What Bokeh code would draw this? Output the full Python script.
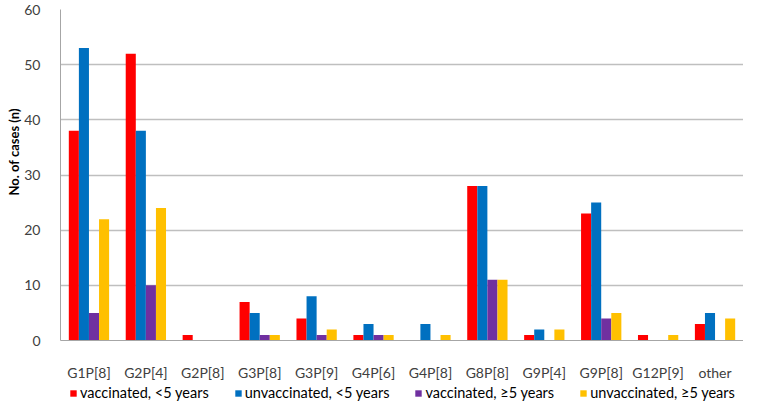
from bokeh.plotting import figure
from bokeh.layouts import column
from bokeh.models import ColumnDataSource, FactorRange, Legend, LegendItem, Title
from bokeh.transform import dodge
from bokeh.embed import file_html
from bokeh.resources import INLINE

categories = ["G1P[8]", "G2P[4]", "G2P[8]", "G3P[8]", "G3P[9]", "G4P[6]",
              "G4P[8]", "G8P[8]", "G9P[4]", "G9P[8]", "G12P[9]", "other"]
vacc_under5 = [38, 52, 1, 7, 4, 1, 0, 28, 1, 23, 1, 3]
unvacc_under5 = [53, 38, 0, 5, 8, 3, 3, 28, 2, 25, 0, 5]
vacc_over5 = [5, 10, 0, 1, 1, 1, 0, 11, 0, 4, 0, 0]
unvacc_over5 = [22, 24, 0, 1, 2, 1, 1, 11, 2, 5, 1, 4]
series_labels = ["vaccinated, <5 years", "unvaccinated, <5 years",
                 "vaccinated, \u22655 years", "unvaccinated, \u22655 years"]
colors = ["#FF0000", "#0070C0", "#7030A0", "#FFC000"]
y_ticks = [0, 10, 20, 30, 40, 50, 60]
y_title = "No. of cases (n)"

source = ColumnDataSource(dict(cat=categories, s0=vacc_under5, s1=unvacc_under5,
                               s2=vacc_over5, s3=unvacc_over5))

FONT = "Lato"
p = figure(x_range=FactorRange(*categories, range_padding=0), y_range=(0, 60),
           width=743, height=383, output_backend="svg", toolbar_location=None,
           min_border_left=60, min_border_right=0, min_border_top=9, min_border_bottom=38)

bw = 0.177
offsets = [-1.5 * bw, -0.5 * bw, 0.5 * bw, 1.5 * bw]
for i, col in enumerate(["s0", "s1", "s2", "s3"]):
    p.vbar(x=dodge("cat", offsets[i], range=p.x_range), top=col, width=bw,
           source=source, fill_color=colors[i], line_color=None)

p.outline_line_color = None
p.xgrid.grid_line_color = None
p.ygrid.grid_line_color = "#BFBFBF"
p.ygrid.grid_line_width = 1.5
p.yaxis.ticker = y_ticks
p.yaxis.axis_line_color = "#A6A6A6"
p.yaxis.major_tick_line_color = None
p.yaxis.minor_tick_line_color = None
p.yaxis.major_label_text_font = FONT
p.yaxis.major_label_text_font_size = "14px"
p.yaxis.major_label_text_color = "#404040"
p.yaxis.major_label_standoff = 14

p.add_layout(Title(text=y_title, align="left", offset=145, vertical_align="bottom",
                   text_font=FONT, text_font_style="bold", text_font_size="13px",
                   text_color="#000000", standoff=0), "left")

p.xaxis.axis_line_color = "#A6A6A6"
p.xaxis.major_tick_line_color = None
p.xaxis.minor_tick_line_color = None
p.xaxis.major_label_text_font = FONT
p.xaxis.major_label_text_font_size = "14px"
p.xaxis.major_label_text_color = "#404040"
p.xaxis.major_label_standoff = 17

# legend strip below the chart
lg = figure(width=743, height=18, output_backend="svg", toolbar_location=None,
            x_axis_type=None, y_axis_type=None, x_range=(0, 1), y_range=(0, 1),
            min_border_left=0, min_border_right=0, min_border_top=0, min_border_bottom=0)
lg.outline_line_color = None
lg.xgrid.grid_line_color = None
lg.ygrid.grid_line_color = None
hidden = ColumnDataSource(dict(x=[-5], top=[-5]))
lg_renderers = [lg.vbar(x="x", top="top", width=0.1, source=hidden,
                        fill_color=colors[i], line_color=None) for i in range(4)]
legend = Legend(items=[LegendItem(label=series_labels[i], renderers=[lg_renderers[i]])
                       for i in range(4)],
                orientation="horizontal", border_line_color=None,
                background_fill_alpha=0,
                label_text_font=FONT, label_text_font_size="14.5px",
                label_text_color="#000000", label_height=10,
                glyph_width=8, glyph_height=8, label_standoff=3,
                spacing=25, padding=0, margin=0, location=(9, 0))
lg.add_layout(legend, "center")

layout = column(p, lg, spacing=0)
open("out.html", "w").write(file_html(layout, INLINE))
